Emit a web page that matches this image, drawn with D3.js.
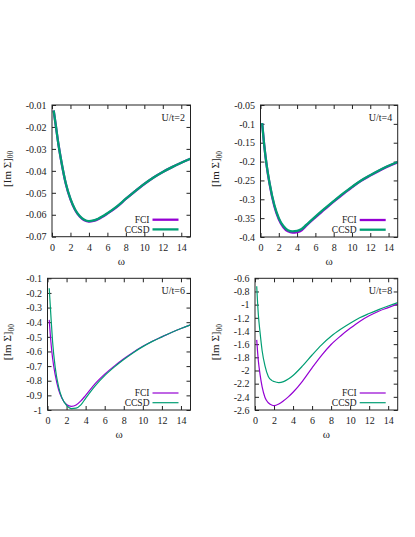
<!DOCTYPE html>
<html lang="en">
<head>
<meta charset="UTF-8">
<title>Im Sigma 00 - FCI vs CCSD</title>
<script src="https://d3js.org/d3.v7.min.js"></script>
<style>
    body{
        margin: 0;
        background: white;
    }
    svg{
        display: block;
        font-family: "Liberation Serif", "Times New Roman", serif;
    }
    .tick text{
        font-family: "Liberation Serif", "Times New Roman", serif;
        font-size: 10px;
        fill: #222;
    }
    .tick line{
        stroke: #222;
    }
</style>
</head>
<body>
<svg></svg>
<script>
    const width = 415;
    const height = 537;

    // frequency grids (omega)
    const omegaU2 = [0.18,0.4,0.7,1,1.5,2,2.5,3,3.5,4,4.5,5,6,7,8,9,10,11,12,13,14,15];
    const omegaU6 = [0.18,0.35,0.53,0.81,1.16,1.5,2,2.5,3,3.5,4,5,6,7,8,9,10,11,12,13,14,15];
    const omegaU8 = [0.18,0.35,0.53,0.75,1.05,1.4,1.75,2,2.5,3,3.5,4,5,6,7,8,9,10,11,12,13,14,15];

    // [Im Sigma]_00 values
    const fciU2  = [-0.0125,-0.019,-0.028,-0.0355,-0.046,-0.053,-0.0578,-0.0608,-0.0625,-0.0631,-0.0628,-0.062,-0.0595,-0.0565,-0.0528,-0.0493,-0.046,-0.043,-0.0405,-0.0383,-0.0363,-0.0345];
    const ccsdU2 = [-0.0125,-0.019,-0.028,-0.0354,-0.0458,-0.0528,-0.0576,-0.0606,-0.0623,-0.0629,-0.0626,-0.0618,-0.0593,-0.0563,-0.0527,-0.0492,-0.0459,-0.043,-0.0405,-0.0383,-0.0363,-0.0345];
    const fciU4  = [-0.098,-0.155,-0.215,-0.26,-0.317,-0.353,-0.374,-0.385,-0.3885,-0.387,-0.382,-0.37,-0.348,-0.327,-0.306,-0.287,-0.268,-0.251,-0.237,-0.224,-0.212,-0.202];
    const ccsdU4 = [-0.098,-0.155,-0.214,-0.258,-0.314,-0.35,-0.371,-0.382,-0.385,-0.384,-0.379,-0.368,-0.346,-0.325,-0.305,-0.285,-0.267,-0.25,-0.236,-0.223,-0.211,-0.201];
    const fciU6  = [-0.384,-0.53,-0.645,-0.76,-0.86,-0.918,-0.963,-0.975,-0.966,-0.938,-0.9,-0.82,-0.755,-0.7,-0.65,-0.605,-0.565,-0.53,-0.5,-0.47,-0.443,-0.418];
    const ccsdU6 = [-0.168,-0.35,-0.53,-0.71,-0.84,-0.915,-0.968,-0.99,-0.987,-0.965,-0.92,-0.835,-0.765,-0.707,-0.655,-0.608,-0.567,-0.531,-0.5,-0.47,-0.443,-0.418];
    const fciU8  = [-1.535,-1.85,-2.06,-2.25,-2.41,-2.49,-2.525,-2.535,-2.51,-2.46,-2.4,-2.33,-2.16,-1.96,-1.77,-1.605,-1.475,-1.36,-1.255,-1.17,-1.1,-1.045,-0.99];
    const ccsdU8 = [-0.72,-1.15,-1.42,-1.70,-1.93,-2.09,-2.15,-2.168,-2.185,-2.17,-2.13,-2.075,-1.93,-1.765,-1.61,-1.48,-1.375,-1.283,-1.2,-1.135,-1.075,-1.02,-0.97];

    // axis ticks
    const xTicks = [0,2,4,6,8,10,12,14];
    const yTicksU2 = [-0.07,-0.06,-0.05,-0.04,-0.03,-0.02,-0.01];
    const yTicksU4 = [-0.4,-0.35,-0.3,-0.25,-0.2,-0.15,-0.1,-0.05];
    const yTicksU6 = [-1,-0.9,-0.8,-0.7,-0.6,-0.5,-0.4,-0.3,-0.2,-0.1];
    const yTicksU8 = [-2.6,-2.4,-2.2,-2,-1.8,-1.6,-1.4,-1.2,-1,-0.8,-0.6];

    const labels = ["U/t=2","U/t=4","U/t=6","U/t=8"];
    const seriesNames = ["FCI","CCSD"];
    const colors = ["#9400d3","#009e73"];

    // panel layout (pixel boxes), built from the arrays above
    const panels = [
        {label: labels[0], omega: omegaU2, fci: fciU2, ccsd: ccsdU2, yTicks: yTicksU2,
         box: [52, 190.5, 105, 236.7], ylabX: 10.5, lw: 2.3},
        {label: labels[1], omega: omegaU2, fci: fciU4, ccsd: ccsdU4, yTicks: yTicksU4,
         box: [260.5, 397.7, 105, 237], ylabX: 219, lw: 2.3},
        {label: labels[2], omega: omegaU6, fci: fciU6, ccsd: ccsdU6, yTicks: yTicksU6,
         box: [47.5, 190.5, 278.3, 410], ylabX: 11, lw: 1.2},
        {label: labels[3], omega: omegaU8, fci: fciU8, ccsd: ccsdU8, yTicks: yTicksU8,
         box: [255, 397.7, 278.3, 410], ylabX: 219, lw: 1.2}
    ];

    const svg = d3.select("svg")
        .attr("width", width)
        .attr("height", height);

    svg.append("rect").attr("width", width).attr("height", height).attr("fill", "white");

    const fmt = d => String(+d.toFixed(2));

    panels.forEach(p => {
        const [x0, x1, y0, y1] = p.box;
        const yExt = d3.extent(p.yTicks);

        const x = d3.scaleLinear().domain([0, 15]).range([x0, x1]);
        const y = d3.scaleLinear().domain(yExt).range([y1, y0]);

        const g = svg.append("g");

        // axes with inward ticks, mirrored on top/right
        g.append("g")
            .attr("transform", `translate(0,${y1})`)
            .call(d3.axisBottom(x).tickValues(xTicks).tickFormat(fmt).tickSizeInner(-4).tickSizeOuter(0).tickPadding(7));
        g.append("g")
            .attr("transform", `translate(0,${y0})`)
            .call(d3.axisTop(x).tickValues(xTicks).tickFormat("").tickSizeInner(-4).tickSizeOuter(0));
        g.append("g")
            .attr("transform", `translate(${x0},0)`)
            .call(d3.axisLeft(y).tickValues(p.yTicks).tickFormat(fmt).tickSizeInner(-4).tickSizeOuter(0).tickPadding(5.5));
        g.append("g")
            .attr("transform", `translate(${x1},0)`)
            .call(d3.axisRight(y).tickValues(p.yTicks).tickFormat("").tickSizeInner(-4).tickSizeOuter(0));

        g.selectAll(".domain").remove();

        // clip for curves
        const clipId = "clip" + p.label.replace(/\W/g, "");
        svg.append("clipPath").attr("id", clipId)
            .append("rect").attr("x", x0).attr("y", y0).attr("width", x1 - x0).attr("height", y1 - y0);

        const line = d3.line()
            .x((d, i) => x(p.omega[i]))
            .y(d => y(d))
            .curve(d3.curveMonotoneX);

        [p.fci, p.ccsd].forEach((vals, k) => {
            g.append("path")
                .attr("d", line(vals))
                .attr("fill", "none")
                .attr("stroke", colors[k])
                .attr("stroke-width", p.lw)
                .attr("clip-path", `url(#${clipId})`);
        });

        // frame
        g.append("rect")
            .attr("x", x0).attr("y", y0)
            .attr("width", x1 - x0).attr("height", y1 - y0)
            .attr("fill", "none").attr("stroke", "#222").attr("stroke-width", 1);

        // legend
        seriesNames.forEach((name, k) => {
            const ly = y1 - 17 + k * 9.7;
            g.append("line")
                .attr("x1", x1 - 38).attr("x2", x1 - 12)
                .attr("y1", ly).attr("y2", ly)
                .attr("stroke", colors[k]).attr("stroke-width", p.lw);
            g.append("text")
                .attr("x", x1 - 41).attr("y", ly + 3.3)
                .attr("text-anchor", "end")
                .attr("font-size", "9.5px")
                .attr("fill", "#222")
                .text(name);
        });

        // U/t label
        g.append("text")
            .attr("x", x1 - 5.5).attr("y", y0 + 16)
            .attr("text-anchor", "end")
            .attr("font-size", "10px")
            .attr("fill", "#222")
            .text(p.label);

        // axis titles
        g.append("text")
            .attr("x", (x0 + x1) / 2).attr("y", y1 + 28)
            .attr("text-anchor", "middle")
            .attr("font-size", "11px")
            .attr("fill", "#222")
            .text("ω");

        const yl = g.append("text")
            .attr("transform", `translate(${p.ylabX},${(y0 + y1) / 2 - 2}) rotate(-90)`)
            .attr("text-anchor", "middle")
            .attr("font-size", "11px")
            .attr("fill", "#222");
        yl.append("tspan").text("[Im Σ]");
        yl.append("tspan").attr("font-size", "7.5px").attr("dy", 2.5).text("00");
    });
</script>
</body>
</html>
